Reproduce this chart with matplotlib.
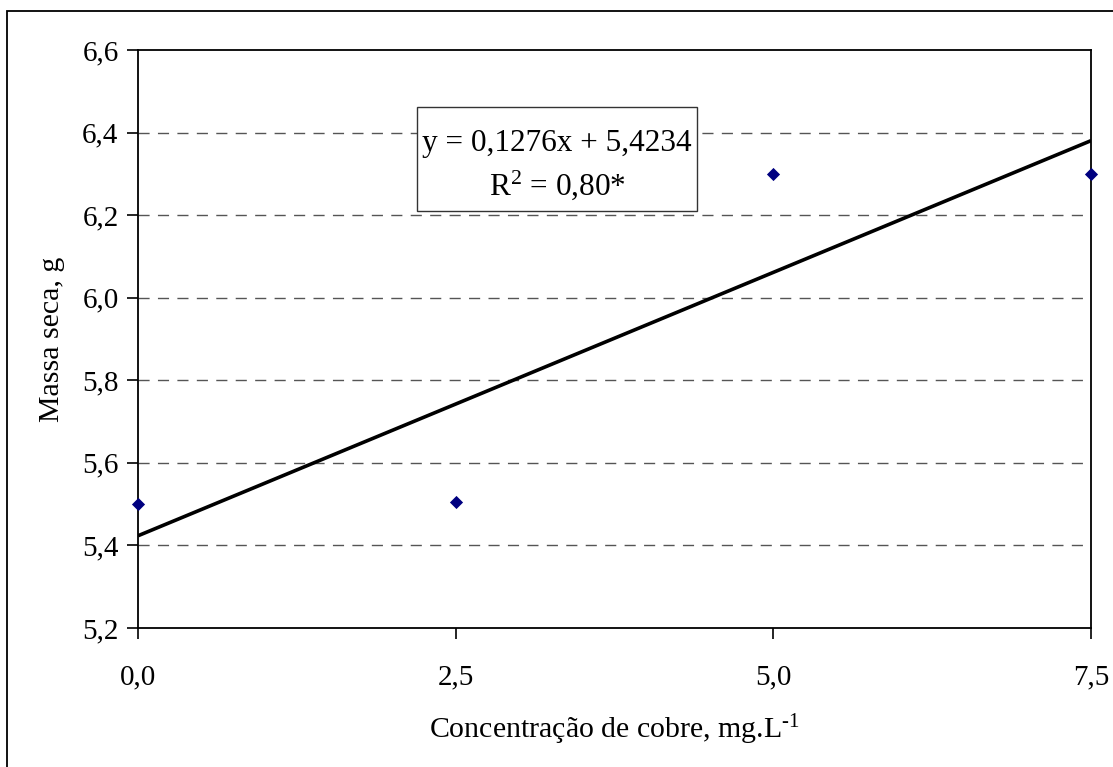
import matplotlib
matplotlib.use("Agg")
import matplotlib.pyplot as plt
from matplotlib.patches import Rectangle

plt.rcParams['font.family'] = ['Liberation Serif', 'DejaVu Serif']
plt.rcParams['mathtext.fontset'] = 'custom'
plt.rcParams['mathtext.rm'] = 'Liberation Serif'
plt.rcParams['mathtext.it'] = 'Liberation Serif:italic'

# data
conc = [0.0, 2.5, 5.0, 7.5]
massa = [5.50, 5.506, 6.30, 6.30]
slope = 0.1276
intercept = 5.4234
x_ticks = [0.0, 2.5, 5.0, 7.5]
x_tick_labels = ["0,0", "2,5", "5,0", "7,5"]
y_ticks = [5.2, 5.4, 5.6, 5.8, 6.0, 6.2, 6.4, 6.6]
y_tick_labels = ["5,2", "5,4", "5,6", "5,8", "6,0", "6,2", "6,4", "6,6"]
eq_line1 = "y = 0,1276x + 5,4234"
eq_line2 = "R$^{2}$ = 0,80*"

W, H = 1113, 767
fig = plt.figure(figsize=(W/100, H/100), dpi=100)
ax = fig.add_axes([138/W, 1-628/H, (1091-138)/W, (628-50)/H])

# outer frame
fig.patches.append(Rectangle((7/W, -0.1), 1.2, 1-11/H+0.1, transform=fig.transFigure,
                             fill=False, edgecolor='black', linewidth=1.3))

ax.set_xlim(0, 7.5)
ax.set_ylim(5.2, 6.6)
for yv in y_ticks[1:-1]:
    ax.axhline(yv, color='#555555', linewidth=1.0, linestyle=(0, (8, 6)), zorder=1)

xs = [conc[0], conc[-1]]
ax.plot(xs, [slope*x + intercept for x in xs], color='black', linewidth=2.6, zorder=3,
        solid_capstyle='butt')
ax.scatter(conc, massa, marker='D', s=45, color='#000080', zorder=4, clip_on=False,
           linewidths=0)

ax.set_xticks(x_ticks)
ax.set_xticklabels(x_tick_labels)
ax.set_yticks(y_ticks)
ax.set_yticklabels(y_tick_labels)
ax.tick_params(axis='both', direction='out', length=8, width=1.2, labelsize=21, colors='black')
ax.tick_params(axis='x', pad=18)
ax.tick_params(axis='y', pad=6)
for s in ax.spines.values():
    s.set_linewidth(1.3)
    s.set_color('black')

ax.set_xlabel("Concentração de cobre, mg.L$^{\u2010 1}$", fontsize=21.5, labelpad=16)
ax.set_ylabel("Massa seca, g", fontsize=21.5, labelpad=12)

# equation box
fig.patches.append(Rectangle((417/W, 1-211/H), (697-417)/W, (211-107)/H, transform=fig.transFigure,
                             facecolor='white', edgecolor='#333333', linewidth=1.0, zorder=5))
fig.text(557/W, 1-143/H, eq_line1, fontsize=22.5, ha='center', va='center', zorder=6)
fig.text(557/W, 1-185/H, eq_line2, fontsize=22.5, ha='center', va='center', zorder=6)

fig.savefig("out.png", dpi=100)
